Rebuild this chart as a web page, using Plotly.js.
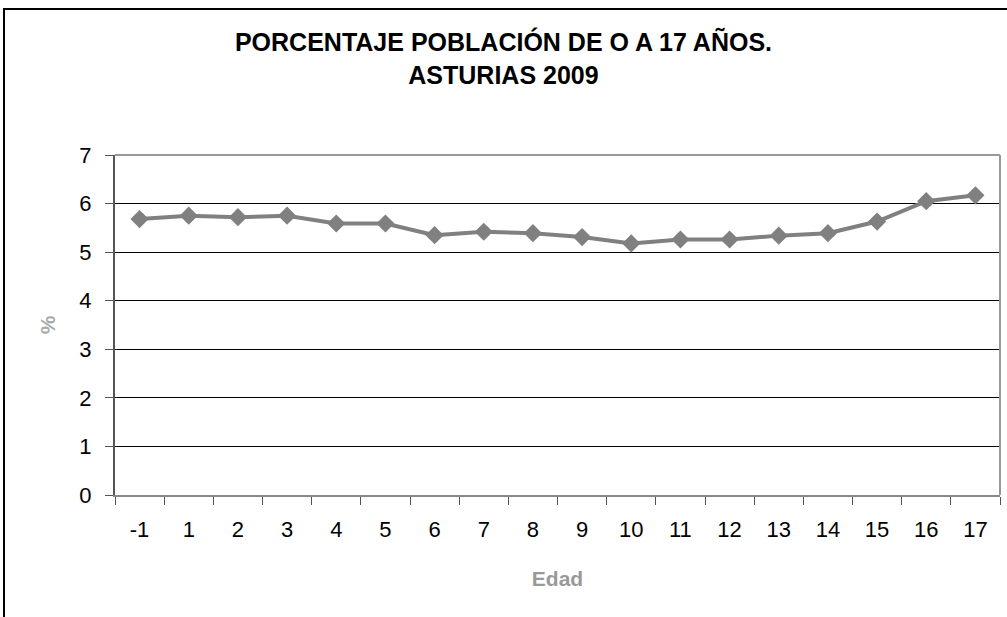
<!DOCTYPE html>
<html>
<head>
<meta charset="utf-8">
<script src="https://cdn.plot.ly/plotly-3.0.1.min.js"></script>
<style>
  html, body { margin: 0; padding: 0; background: #fff; }
  #wrap { position: relative; width: 1007px; height: 617px; overflow: hidden; }
  #chart { position: absolute; left: 0; top: 0; width: 1007px; height: 617px; }
  #frame { position: absolute; left: 3px; top: 8px; width: 1100px; height: 700px;
           border-left: 2px solid #000; border-top: 2px solid #000; pointer-events: none; }
</style>
</head>
<body>
<div id="wrap">
  <div id="chart"></div>
  <div id="frame"></div>
</div>
<script>
const ages = ["-1", "1", "2", "3", "4", "5", "6", "7", "8", "9", "10", "11", "12", "13", "14", "15", "16", "17"];
const percentages = [5.68, 5.75, 5.72, 5.75, 5.59, 5.59, 5.35, 5.42, 5.39, 5.31, 5.18, 5.26, 5.26, 5.34, 5.39, 5.63, 6.05, 6.17];
const yTicks = [0, 1, 2, 3, 4, 5, 6, 7];

const trace = {
  x: ages,
  y: percentages,
  type: "scatter",
  mode: "lines+markers",
  line: { color: "#808080", width: 4 },
  marker: { symbol: "diamond", size: 14, color: "#808080" },
  hoverinfo: "x+y"
};

const layout = {
  width: 1007,
  height: 617,
  margin: { l: 115, r: 7, t: 155, b: 122 },
  paper_bgcolor: "#fff",
  plot_bgcolor: "#fff",
  font: { family: "Liberation Sans, Arial, sans-serif", color: "#000" },
  showlegend: false,
  title: {
    text: "<b>PORCENTAJE POBLACIÓN DE O A 17 AÑOS.</b><br><b>ASTURIAS 2009</b>",
    font: { size: 25, color: "#000" },
    x: 0.5, xanchor: "center",
    y: 0.917, yanchor: "middle"
  },
  xaxis: {
    type: "category",
    range: [-0.5, ages.length - 0.5],
    tickson: "boundaries",
    ticks: "outside",
    ticklen: 8,
    tickcolor: "#555",
    showline: true,
    linecolor: "#888",
    linewidth: 2,
    mirror: false,
    showgrid: false,
    zeroline: false,
    tickfont: { size: 22, color: "#000" },
    ticklabelstandoff: 14,
    title: { text: "<b>Edad</b>", font: { size: 21, color: "#999" }, standoff: 30 }
  },
  yaxis: {
    range: [0, 7],
    tickvals: yTicks,
    ticktext: yTicks.map(String),
    ticks: "outside",
    ticklen: 8,
    tickcolor: "#555",
    showline: true,
    linecolor: "#555",
    linewidth: 2,
    showgrid: true,
    gridcolor: "#000",
    gridwidth: 1,
    zeroline: false,
    tickfont: { size: 22, color: "#000" },
    ticklabelstandoff: 9,
    title: { text: "<b>%</b>", font: { size: 21, color: "#aaa" }, standoff: 18 }
  },
  shapes: [
    { type: "line", xref: "paper", yref: "paper", x0: 0, x1: 1, y0: 1, y1: 1,
      line: { color: "#999", width: 2 } },
    { type: "line", xref: "paper", yref: "paper", x0: 1, x1: 1, y0: 0, y1: 1,
      line: { color: "#999", width: 2 } }
  ]
};

Plotly.newPlot("chart", [trace], layout, { displayModeBar: false, staticPlot: true });
</script>
</body>
</html>
